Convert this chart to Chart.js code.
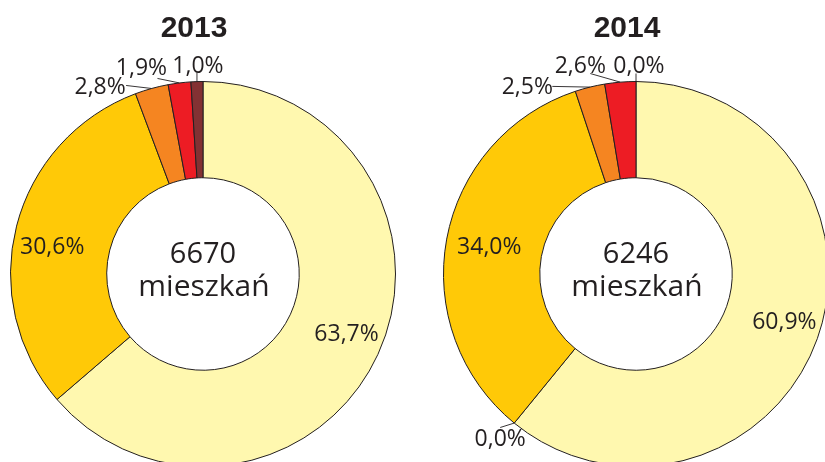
<!DOCTYPE html>
<html><head><meta charset="utf-8">
<script src="https://cdn.jsdelivr.net/npm/chart.js@4.4.1/dist/chart.umd.min.js"></script>
<style>
html,body{margin:0;padding:0;overflow:hidden;background:#fff;width:825px;height:462px;}
.box{position:absolute;top:0;width:400px;height:480px;}
</style></head><body>
<div class="box" style="left:3px"><canvas id="c1" width="400" height="480"></canvas></div>
<div class="box" style="left:436px"><canvas id="c2" width="400" height="480"></canvas></div>
<script>
// ---- data ----
const categories = ['Kategoria A', 'Kategoria B', 'Kategoria C', 'Kategoria D', 'Kategoria E', 'Kategoria F'];
const years = ['2013', '2014'];
const totals = ['6670', '6246'];
const centerWord = 'mieszkań';
const values2013 = [63.7, null, 30.6, 2.8, 1.9, 1.0];
const values2014 = [60.9, 0.0, 34.0, 2.5, 2.6, 0.0];

// ---- styles ----
const sliceColors = ['#FFF8AF', '#FFF8AF', '#FFC907', '#F58521', '#ED1C24', '#833133'];
const ink = '#231F20';
const labelFont = '23px "Open Sans", sans-serif';

// label layouts (per slice): inside ring or outside with leader line
const layout2013 = [
  {type: 'in', r: 0.62, da: -1.7},
  null,
  {type: 'in', r: 0.59, da: -4.6},
  {type: 'out', line: [-25.5, -3], text: [-26, 2]},
  {type: 'out', line: [-22, -4.5], text: [-16, -10]},
  {type: 'out', line: [0, -9], text: [1, -6]}
];
const layout2014 = [
  {type: 'in', r: 0.62, da: -1.7},
  {type: 'out', line: [-14, 4.4], text: [0, 12]},
  {type: 'in', r: 0.55, da: 0},
  {type: 'out', line: [-37.6, -0.7], text: [-25, 1]},
  {type: 'out', line: [-30, -8.6], text: [-10, -7]},
  {type: 'out', line: [0, -8], text: [3, -7]}
];

const fmt = v => v.toFixed(1).replace('.', ',') + '%';

const labelPlugin = {
  id: 'labels',
  afterDatasetsDraw(chart, args, opts) {
    const ctx = chart.ctx;
    const meta = chart.getDatasetMeta(0);
    const data = chart.data.datasets[0].data;
    const c0 = meta.data[0];
    const cx = c0.x, cy = c0.y;
    ctx.save();
    ctx.fillStyle = ink;
    ctx.strokeStyle = ink;
    ctx.lineWidth = 0.9;
    ctx.textAlign = 'center';
    ctx.textBaseline = 'middle';
    meta.data.forEach((arc, i) => {
      const v = data[i];
      const lay = opts.layout[i];
      if (v === null || v === undefined || !lay) return;
      const p = arc.getProps(['x', 'y', 'startAngle', 'endAngle', 'innerRadius', 'outerRadius'], true);
      const mid = (p.startAngle + p.endAngle) / 2;
      ctx.font = labelFont;
      if (lay.type === 'in') {
        const a = mid + lay.da * Math.PI / 180;
        const r = p.innerRadius + lay.r * (p.outerRadius - p.innerRadius);
        ctx.fillText(fmt(v), p.x + Math.cos(a) * r, p.y + Math.sin(a) * r);
      } else {
        const ax = p.x + Math.cos(mid) * p.outerRadius;
        const ay = p.y + Math.sin(mid) * p.outerRadius;
        const lx = ax + lay.line[0], ly = ay + lay.line[1];
        ctx.beginPath();
        ctx.moveTo(ax, ay);
        ctx.lineTo(lx, ly);
        ctx.stroke();
        ctx.fillText(fmt(v), lx + lay.text[0], ly + lay.text[1]);
      }
    });
    // centre text
    ctx.textBaseline = 'alphabetic';
    ctx.font = '29px "Open Sans", sans-serif';
    ctx.fillText(opts.total, cx, cy - 11);
    ctx.font = '30px "Open Sans", sans-serif';
    ctx.fillText(centerWord, cx + 1, cy + 22);
    // title
    ctx.font = 'bold 30px "Liberation Sans", Arial, sans-serif';
    ctx.fillText(opts.title, cx - 9, cy - 237);
    ctx.restore();
  }
};

function makeChart(id, values, idx, layout) {
  return new Chart(document.getElementById(id), {
    type: 'doughnut',
    data: {
      labels: categories,
      datasets: [{
        data: values,
        backgroundColor: sliceColors,
        borderColor: ink,
        borderWidth: 1
      }]
    },
    options: {
      responsive: false,
      animation: false,
      cutout: '50%',
      layout: {padding: {top: 81, bottom: 13, left: 7, right: 7}},
      plugins: {
        legend: {display: false},
        tooltip: {enabled: false},
        labels: {layout: layout, total: totals[idx], title: years[idx]}
      }
    },
    plugins: [labelPlugin]
  });
}

makeChart('c1', values2013, 0, layout2013);
makeChart('c2', values2014, 1, layout2014);
</script>
</body></html>
